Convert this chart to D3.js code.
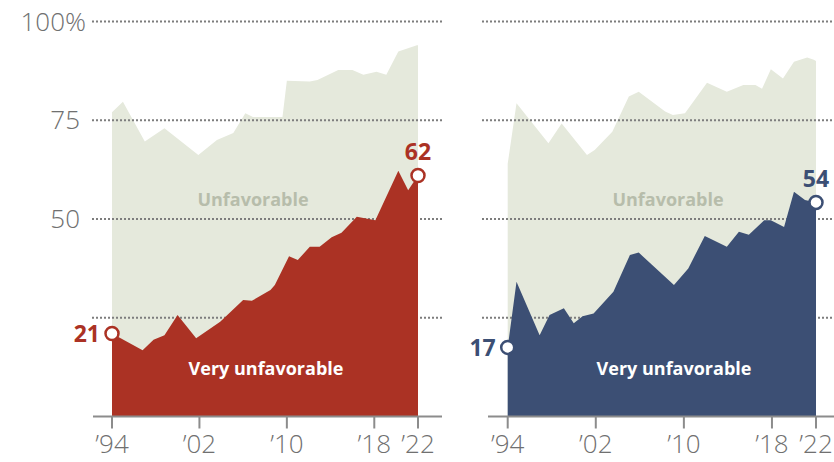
<!DOCTYPE html>
<html>
<head>
<meta charset="utf-8">
<script src="https://cdn.jsdelivr.net/npm/d3@7"></script>
<style>
  body { margin: 0; background: #fff; }
  svg { display: block; font-family: "Open Sans", "Noto Sans", sans-serif; }
</style>
</head>
<body>
<svg id="chart" width="834" height="462"></svg>
<script>
// Republicans' views of the Democratic Party (left panel)
const repUnfavYears = [1994, 1995, 1997, 1998.8, 2001.9, 2003.6, 2005.1, 2006.2, 2006.9, 2009.6, 2010, 2012.1, 2012.8, 2014.7, 2016, 2017, 2018.2, 2019.1, 2020.2, 2021.9, 2022];
const repUnfav      = [77, 79.7, 69.6, 73, 66.2, 70, 71.8, 76.8, 75.8, 75.8, 85, 84.8, 85.2, 87.7, 87.7, 86.5, 87.3, 86.5, 92.4, 94, 94];
const repVeryYears  = [1994, 1996.8, 1997.8, 1998.8, 2000, 2001.7, 2003.9, 2006, 2006.8, 2008.5, 2008.9, 2010.2, 2011, 2012.1, 2013, 2014.1, 2015, 2016.4, 2018.1, 2020.2, 2021.1, 2022];
const repVery       = [21, 16.8, 19.4, 20.6, 25.7, 19.8, 24, 29.5, 29.3, 32, 33.3, 40.6, 39.6, 43, 43, 45.4, 46.5, 50.6, 49.7, 62.2, 57.3, 61];

// Democrats' views of the Republican Party (right panel)
const demUnfavYears = [1994, 1994.8, 1997.7, 1998.9, 2001.2, 2001.9, 2003.5, 2005, 2005.9, 2008.3, 2009, 2010.1, 2012.1, 2013.9, 2015.4, 2016.5, 2017.1, 2017.9, 2019, 2020, 2021.2, 2021.8, 2022];
const demUnfav      = [64, 79.3, 69.2, 74.2, 66.2, 67.5, 72.1, 81, 82.2, 77.2, 76.3, 76.8, 84.5, 82.2, 83.9, 83.9, 83, 87.9, 85.6, 89.8, 90.9, 90.3, 90];
const demVeryYears  = [1994, 1994.8, 1996.9, 1997.8, 1999.1, 2000, 2000.8, 2001.8, 2003.6, 2005.1, 2005.9, 2007.1, 2009.1, 2010.4, 2011.9, 2013.9, 2015, 2015.9, 2017.3, 2017.9, 2019.1, 2020, 2021, 2022];
const demVery       = [17.5, 34.1, 20.6, 25.7, 27.4, 23.6, 25.4, 26.1, 31.6, 40.9, 41.5, 38.4, 33.3, 37.5, 45.7, 43, 46.8, 46, 49.7, 49.7, 48, 56.9, 54.8, 54.2];

const xTicks = [1994, 2002, 2010, 2018, 2022];
const xTickLabels = ['\u201994', '\u201902', '\u201910', '\u201918', '\u201922'];
const yGrid = [100, 75, 50, 25];
const yTickLabels = ['100%', '75', '50', ''];
const endLabels = { rep: ['21', '62'], dem: ['17', '54'] };

const svg = d3.select('#chart');

const y = d3.scaleLinear().domain([0, 100]).range([416.5, 21.5]);

const panels = [
  { key: 'rep', range: [112, 418], grid: [92, 442], axis: [93, 442], color: '#ab3224',
    unfYears: repUnfavYears, unf: repUnfav, veryYears: repVeryYears, very: repVery,
    unfLabelX: 253, veryLabelX: 266 },
  { key: 'dem', range: [507.7, 816], grid: [482, 834], axis: [488, 834], color: '#3c4f74',
    unfYears: demUnfavYears, unf: demUnfav, veryYears: demVeryYears, very: demVery,
    unfLabelX: 668, veryLabelX: 674 }
];

// y-axis labels (left side only)
svg.append('g')
  .selectAll('text')
  .data(yGrid)
  .enter()
  .append('text')
  .attr('x', (d, i) => i === 0 ? 86 : 80)
  .attr('y', d => y(d))
  .attr('dy', '0.35em')
  .attr('text-anchor', 'end')
  .attr('fill', '#707070')
  .style('font-size', '26px')
  .style('font-weight', 300)
  .text((d, i) => yTickLabels[i]);

panels.forEach(p => {
  const x = d3.scaleLinear().domain([1994, 2022]).range(p.range);
  const g = svg.append('g').attr('class', 'panel-' + p.key);

  const area = d3.area()
    .x(d => x(d[0]))
    .y0(y(0))
    .y1(d => y(d[1]));

  const unfData = p.unfYears.map((yr, i) => [yr, p.unf[i]]);
  const veryData = p.veryYears.map((yr, i) => [yr, p.very[i]]);

  // Unfavorable (total) area
  g.append('path')
    .datum(unfData)
    .attr('fill', '#e5e9dc')
    .attr('d', area);

  // dotted gridlines
  g.append('g')
    .selectAll('line')
    .data(yGrid)
    .enter()
    .append('line')
    .attr('x1', p.grid[0])
    .attr('x2', p.grid[1])
    .attr('y1', d => y(d))
    .attr('y2', d => y(d))
    .attr('stroke', '#7d7d7d')
    .attr('stroke-width', 2.2)
    .attr('stroke-dasharray', '2,2');

  // Very unfavorable area
  g.append('path')
    .datum(veryData)
    .attr('fill', p.color)
    .attr('d', area);

  // x axis
  const axis = g.append('g').attr('transform', `translate(0,${y(0)})`);
  axis.append('line')
    .attr('x1', p.axis[0])
    .attr('x2', p.axis[1])
    .attr('stroke', '#8c8c8c')
    .attr('stroke-width', 2);
  axis.selectAll('.tick')
    .data(xTicks)
    .enter()
    .append('line')
    .attr('class', 'tick')
    .attr('x1', d => x(d))
    .attr('x2', d => x(d))
    .attr('y1', 0)
    .attr('y2', 12)
    .attr('stroke', '#8c8c8c')
    .attr('stroke-width', 2);
  axis.selectAll('text')
    .data(xTicks)
    .enter()
    .append('text')
    .attr('x', d => x(d))
    .attr('y', 36)
    .attr('text-anchor', 'middle')
    .attr('fill', '#707070')
    .style('font-size', '26px')
    .style('font-weight', 300)
    .text((d, i) => xTickLabels[i]);

  // area labels
  g.append('text')
    .attr('x', p.unfLabelX)
    .attr('y', 206)
    .attr('text-anchor', 'middle')
    .attr('fill', '#b7bdab')
    .style('font-size', '18px')
    .style('font-weight', 700)
    .text('Unfavorable');
  g.append('text')
    .attr('x', p.veryLabelX)
    .attr('y', 375)
    .attr('text-anchor', 'middle')
    .attr('fill', '#fff')
    .style('font-size', '18px')
    .style('font-weight', 700)
    .text('Very unfavorable');

  // end markers
  const first = veryData[0];
  const last = veryData[veryData.length - 1];
  [first, last].forEach(d => {
    g.append('circle')
      .attr('cx', x(d[0]))
      .attr('cy', y(d[1]))
      .attr('r', 6.5)
      .attr('fill', '#fff')
      .attr('stroke', p.color)
      .attr('stroke-width', 2.5);
  });
  g.append('text')
    .attr('x', x(first[0]) - 12)
    .attr('y', y(first[1]))
    .attr('dy', '0.36em')
    .attr('text-anchor', 'end')
    .attr('fill', p.color)
    .style('font-size', '23px')
    .style('font-weight', 700)
    .text(endLabels[p.key][0]);
  g.append('text')
    .attr('x', x(last[0]))
    .attr('y', y(last[1]) - 24)
    .attr('dy', '0.36em')
    .attr('text-anchor', 'middle')
    .attr('fill', p.color)
    .style('font-size', '23px')
    .style('font-weight', 700)
    .text(endLabels[p.key][1]);
});
</script>
</body>
</html>
